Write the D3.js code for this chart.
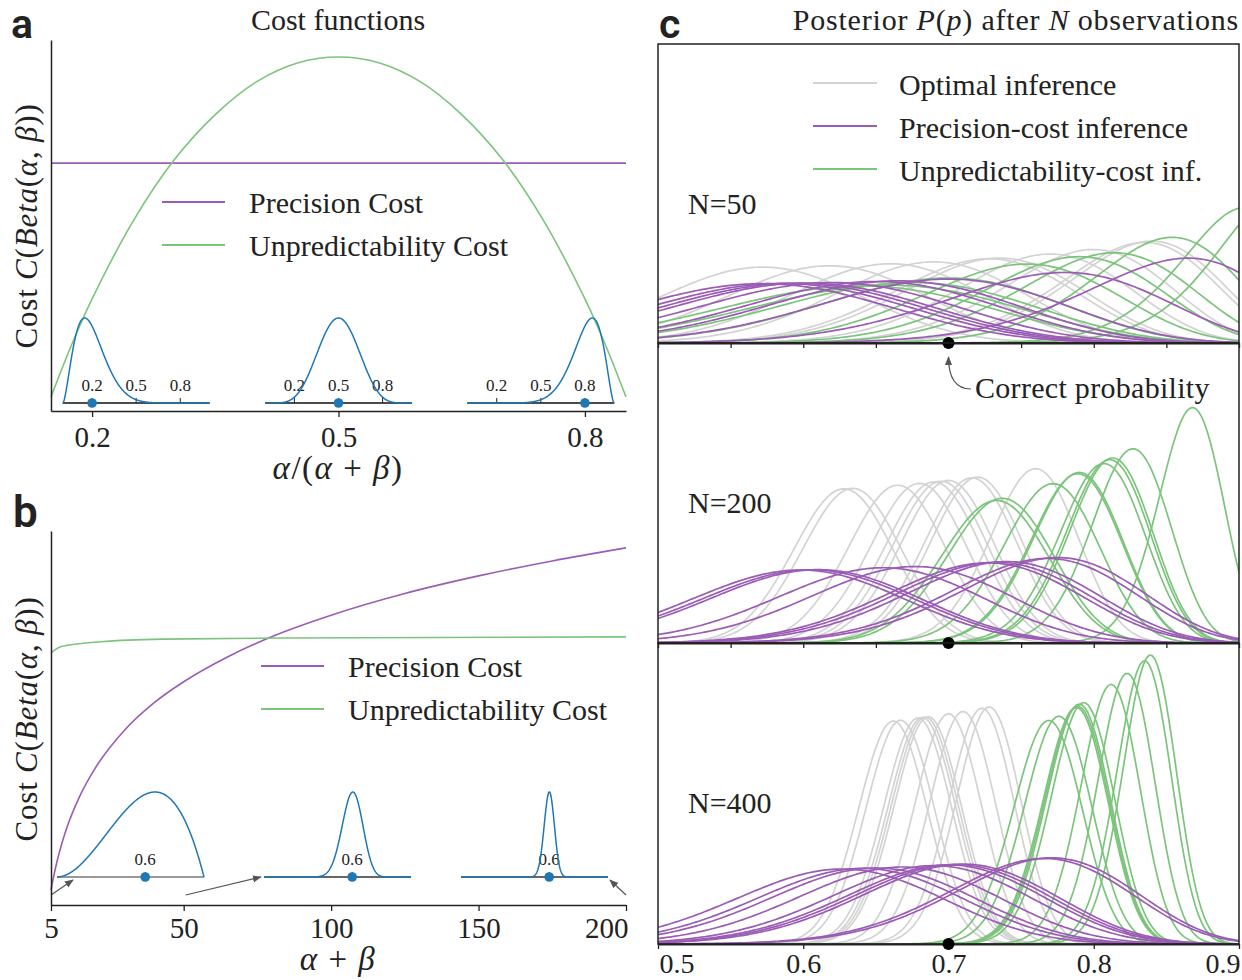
<!DOCTYPE html>
<html><head><meta charset="utf-8">
<script src="https://cdn.jsdelivr.net/npm/d3@7"></script>
<style>
html,body{margin:0;padding:0;background:#fff;}
svg{display:block;}
text{font-family:"Liberation Serif","Times New Roman",serif;fill:#222;}
.panel-label{font-family:Roboto,"Open Sans",sans-serif;font-weight:600;}
</style></head><body>
<svg id="fig" width="1242" height="980"></svg>
<script>
// ---------------- data ----------------
// (a) cost as a function of the mean alpha/(alpha+beta)
const ratioGrid      = [0.15, 0.175, 0.2, 0.25, 0.3, 0.35, 0.4, 0.45, 0.5, 0.55, 0.6, 0.65, 0.7, 0.75, 0.8, 0.825, 0.85];
const unpredCostA    = [0.038, 0.178, 0.302, 0.512, 0.677, 0.799, 0.887, 0.938, 0.954, 0.938, 0.887, 0.799, 0.677, 0.512, 0.302, 0.178, 0.038];
const precisionGridA = [0.15, 0.85];
const precisionCostA = [0.668, 0.668];
const aTicks = [0.2, 0.5, 0.8];
const insetMeansA = [0.2, 0.5, 0.8];
const insetConcA = 14;
const insetTicksA = [0.2, 0.5, 0.8];

// (b) cost as a function of the concentration alpha+beta
const totalGrid      = [5, 6, 7, 8.5, 10, 15, 20, 30, 40, 50, 65, 80, 100, 125, 150, 175, 200];
const precisionCostB = [0.040, 0.080, 0.115, 0.160, 0.198, 0.295, 0.366, 0.468, 0.541, 0.597, 0.664, 0.718, 0.775, 0.833, 0.880, 0.920, 0.955];
const unpredGridB    = [5, 8.5, 22, 43, 84, 200];
const unpredCostB    = [0.674, 0.691, 0.704, 0.711, 0.714, 0.717];
const bTicks = [5, 50, 100, 150, 200];
const insetMeanB = 0.6;
const insetConcB = [5, 50, 200];

// (c) posteriors after N observations: mode and concentration of each Beta curve
const posteriorN = [50, 200, 400];
const correctP = 0.7;
const cTicksMinor = [0.5, 0.55, 0.6, 0.65, 0.7, 0.75, 0.8, 0.85, 0.9];
const cTicks = [0.5, 0.6, 0.7, 0.8, 0.9];
const optimalModes = [
  [0.572, 0.618, 0.66, 0.69, 0.728, 0.735, 0.77, 0.80, 0.835, 0.84],
  [0.628, 0.634, 0.665, 0.68, 0.69, 0.695, 0.70, 0.716, 0.72, 0.76],
  [0.662, 0.667, 0.679, 0.682, 0.684, 0.686, 0.70, 0.71, 0.723, 0.728]
];
const optimalConc = [52, 202, 402];
const precisionModes = [
  [0.572, 0.585, 0.594, 0.602, 0.62, 0.65, 0.665, 0.70, 0.78, 0.865],
  [0.598, 0.605, 0.61, 0.655, 0.677, 0.727, 0.733, 0.74, 0.768, 0.775],
  [0.627, 0.641, 0.65, 0.668, 0.69, 0.70, 0.705, 0.71, 0.766, 0.771]
];
const precisionConc = [32, 47, 48];
const unpredModes = [
  [0.64, 0.66, 0.675, 0.70, 0.754, 0.79, 0.814, 0.854, 0.904, 0.925],
  [0.733, 0.737, 0.772, 0.789, 0.79, 0.807, 0.811, 0.813, 0.827, 0.868],
  [0.769, 0.776, 0.788, 0.789, 0.79, 0.793, 0.812, 0.823, 0.835, 0.839]
];
const unpredConc = [
  [28, 28, 30, 33, 43, 46, 46, 52, 60, 55],
  [145, 148, 163, 174, 176, 183, 188, 190, 197, 232],
  [321, 326, 338, 340, 345, 346, 372, 386, 400, 408]
];
const densityMax = 22.8;

// ---------------- helpers ----------------
const PURPLE = '#9b5cb5', GREEN = '#7cc47c', GRAY = '#d3d3d3', BLUE = '#1f77b4', INK = '#222';

function lgamma(z) {
  const c = [0.99999999999980993, 676.5203681218851, -1259.1392167224028, 771.32342877765313,
    -176.61502916214059, 12.507343278686905, -0.13857109526572012, 9.9843695780195716e-6, 1.5056327351493116e-7];
  if (z < 0.5) return Math.log(Math.PI / Math.sin(Math.PI * z)) - lgamma(1 - z);
  z -= 1;
  let x = c[0];
  for (let i = 1; i < 9; i++) x += c[i] / (z + i);
  const t = z + 7.5;
  return 0.5 * Math.log(2 * Math.PI) + (z + 0.5) * Math.log(t) - t + Math.log(x);
}
function betaPdf(p, a, b) {
  if (p <= 0 || p >= 1) return 0;
  const lb = lgamma(a) + lgamma(b) - lgamma(a + b);
  return Math.exp((a - 1) * Math.log(p) + (b - 1) * Math.log(1 - p) - lb);
}
function rich(sel, parts) {
  parts.forEach(([t, it]) => sel.append('tspan').text(t).attr('font-style', it ? 'italic' : null));
  return sel;
}
function styleAxis(g, fs, width) {
  g.select('.domain').attr('stroke', INK).attr('stroke-width', width || 1.5);
  g.selectAll('.tick line').attr('stroke', INK).attr('stroke-width', 1.3);
  g.selectAll('.tick text').attr('font-size', fs).attr('fill', INK)
    .attr('font-family', '"Liberation Serif", serif');
}
const costLabel = [['Cost  ', 0], ['C', 1], ['(', 0], ['Beta', 1], ['(', 0], ['α', 1], [', ', 0], ['β', 1], ['))', 0]];

const svg = d3.select('#fig');
svg.append('rect').attr('width', 1242).attr('height', 980).attr('fill', '#fff');

const defs = svg.append('defs');
defs.append('marker').attr('id', 'head').attr('viewBox', '0 0 10 10')
  .attr('refX', 9).attr('refY', 5).attr('markerWidth', 9).attr('markerHeight', 9)
  .attr('markerUnits', 'userSpaceOnUse').attr('orient', 'auto')
  .append('path').attr('d', 'M0,1 L10,5 L0,9 z').attr('fill', '#555');

// small Beta-density inset on its own baseline
function drawInset(g, left, base, m, conc, ticks, labels, baseColor) {
  const w = 147, hgt = 85;
  const xs = d3.scaleLinear().domain([0, 1]).range([left, left + w]);
  const a = m * conc, b = (1 - m) * conc;
  const pts = d3.range(0, 1.00001, 0.002).map(p => [p, betaPdf(p, a, b)]);
  const ys = d3.scaleLinear().domain([0, d3.max(pts, d => d[1])]).range([base, base - hgt]);
  g.append('line').attr('x1', left).attr('x2', left + w).attr('y1', base).attr('y2', base)
    .attr('stroke', baseColor).attr('stroke-width', 1.5);
  ticks.forEach(t => g.append('line').attr('x1', xs(t)).attr('x2', xs(t))
    .attr('y1', base).attr('y2', base - 5).attr('stroke', INK).attr('stroke-width', 1));
  labels.forEach(t => g.append('text').attr('x', xs(t)).attr('y', base - 12)
    .attr('text-anchor', 'middle').attr('font-size', 17).text(t.toFixed(1)));
  g.append('path').datum(pts)
    .attr('d', d3.line().x(d => xs(d[0])).y(d => ys(d[1])))
    .attr('fill', 'none').attr('stroke', BLUE).attr('stroke-width', 1.5);
  g.append('circle').attr('cx', xs(m)).attr('cy', base).attr('r', 4.8).attr('fill', BLUE);
  return xs;
}

// ---------------- panel a ----------------
{
  const g = svg.append('g');
  const x = d3.scaleLinear().domain([0.15, 0.85]).range([51, 626]);
  const y = d3.scaleLinear().domain([0, 1]).range([411, 40]);
  const line = d3.line().x(d => x(d[0])).y(d => y(d[1])).curve(d3.curveCatmullRom);

  g.append('path').datum(d3.zip(precisionGridA, precisionCostA)).attr('d', line)
    .attr('fill', 'none').attr('stroke', PURPLE).attr('stroke-width', 1.6);
  g.append('path').datum(d3.zip(ratioGrid, unpredCostA)).attr('d', line)
    .attr('fill', 'none').attr('stroke', GREEN).attr('stroke-width', 1.6);

  insetMeansA.forEach(m => drawInset(g, x(m) - m * 147, 403, m, insetConcA, insetTicksA, insetTicksA, '#111'));

  const ax = g.append('g').attr('transform', 'translate(0,411)')
    .call(d3.axisBottom(x).tickValues(aTicks).tickSize(6).tickSizeOuter(0).tickPadding(9).tickFormat(d3.format('.1f')));
  styleAxis(ax, 29);
  const ay = g.append('g').attr('transform', 'translate(51,0)')
    .call(d3.axisLeft(y).tickValues([]).tickSizeOuter(0));
  styleAxis(ay, 29);

  // legend
  [['Precision Cost', PURPLE, 202], ['Unpredictability Cost', GREEN, 245]].forEach(([t, c, ly]) => {
    g.append('line').attr('x1', 162).attr('x2', 225).attr('y1', ly).attr('y2', ly)
      .attr('stroke', c).attr('stroke-width', 1.8);
    g.append('text').attr('x', 249).attr('y', ly + 11).attr('font-size', 30).text(t);
  });

  g.append('text').attr('x', 338).attr('y', 30).attr('text-anchor', 'middle').attr('font-size', 30).text('Cost functions');
  rich(g.append('text').attr('x', 338).attr('y', 479).attr('text-anchor', 'middle').attr('font-size', 33)
    .attr('letter-spacing', 1.5), [['α', 1], ['/(', 0], ['α', 1], [' + ', 0], ['β', 1], [')', 0]]);
  rich(g.append('text').attr('transform', 'translate(37,226) rotate(-90)').attr('text-anchor', 'middle')
    .attr('font-size', 31).attr('letter-spacing', 0.8), costLabel);
  svg.append('text').attr('class', 'panel-label').attr('x', 11).attr('y', 38).attr('font-size', 41).text('a');
}

// ---------------- panel b ----------------
{
  const g = svg.append('g');
  const x = d3.scaleLinear().domain([5, 200]).range([51, 626]);
  const y = d3.scaleLinear().domain([0, 1]).range([905, 531]);
  const line = d3.line().x(d => x(d[0])).y(d => y(d[1])).curve(d3.curveMonotoneX);

  g.append('path').datum(d3.zip(totalGrid, precisionCostB)).attr('d', line)
    .attr('fill', 'none').attr('stroke', PURPLE).attr('stroke-width', 1.6);
  g.append('path').datum(d3.zip(unpredGridB, unpredCostB)).attr('d', line)
    .attr('fill', 'none').attr('stroke', GREEN).attr('stroke-width', 1.6);

  const lefts = [57, 264, 461], base = 877;
  insetConcB.forEach((c, i) => drawInset(g, lefts[i], base, insetMeanB, c, [insetMeanB], [insetMeanB], i === 0 ? '#777' : '#333'));

  // arrows from the concentration axis to each inset
  const arrowEnds = [[lefts[0] + 16, base + 3], [lefts[1] - 3, base], [lefts[2] + 149, base + 3]];
  insetConcB.forEach((c, i) => {
    g.append('line').attr('x1', x(c) + (i === 1 ? 2 : 0)).attr('y1', base + 18)
      .attr('x2', arrowEnds[i][0]).attr('y2', arrowEnds[i][1])
      .attr('stroke', '#555').attr('stroke-width', 1.2).attr('marker-end', 'url(#head)');
  });

  const ax = g.append('g').attr('transform', 'translate(0,905)')
    .call(d3.axisBottom(x).tickValues(bTicks).tickSize(6).tickSizeOuter(0).tickPadding(6).tickFormat(d3.format('d')));
  styleAxis(ax, 29);
  ax.selectAll('.tick text').filter(d => d === 200).attr('text-anchor', 'end').attr('dx', 2);
  const ay = g.append('g').attr('transform', 'translate(51,0)')
    .call(d3.axisLeft(y).tickValues([]).tickSizeOuter(0));
  styleAxis(ay, 29);

  [['Precision Cost', PURPLE, 666], ['Unpredictability Cost', GREEN, 709]].forEach(([t, c, ly]) => {
    g.append('line').attr('x1', 261).attr('x2', 324).attr('y1', ly).attr('y2', ly)
      .attr('stroke', c).attr('stroke-width', 1.8);
    g.append('text').attr('x', 348).attr('y', ly + 11).attr('font-size', 30).text(t);
  });

  rich(g.append('text').attr('x', 338).attr('y', 970).attr('text-anchor', 'middle').attr('font-size', 33)
    .attr('letter-spacing', 1.5), [['α', 1], [' + ', 0], ['β', 1]]);
  rich(g.append('text').attr('transform', 'translate(37,719) rotate(-90)').attr('text-anchor', 'middle')
    .attr('font-size', 31).attr('letter-spacing', 0.8), costLabel);
  svg.append('text').attr('class', 'panel-label').attr('x', 13).attr('y', 527).attr('font-size', 44).text('b');
}

// ---------------- panel c ----------------
{
  const g = svg.append('g');
  const x = d3.scaleLinear().domain([0.5, 0.9]).range([658, 1239]);
  const tops = [44, 343, 643], bottoms = [343, 643, 944];
  const pGrid = d3.range(0.5, 0.9 + 1e-9, 0.002);
  const curve = (mode, conc) => {
    const a = mode * (conc - 2) + 1, b = conc - a;
    return pGrid.map(p => [p, betaPdf(p, a, b)]);
  };

  posteriorN.forEach((N, i) => {
    const top = tops[i], bottom = bottoms[i];
    const y = d3.scaleLinear().domain([0, densityMax]).range([bottom, top]);
    const line = d3.line().x(d => x(d[0])).y(d => y(d[1]));
    defs.append('clipPath').attr('id', 'clip' + i).append('rect')
      .attr('x', 658).attr('y', top).attr('width', 581).attr('height', bottom - top);
    const plot = g.append('g').attr('clip-path', `url(#clip${i})`);

    const draw = (modes, concs, color) => modes.forEach((m, k) => {
      const c = Array.isArray(concs) ? concs[k] : concs;
      plot.append('path').datum(curve(m, c)).attr('d', line)
        .attr('fill', 'none').attr('stroke', color).attr('stroke-width', 1.7);
    });
    draw(optimalModes[i], optimalConc[i], GRAY);
    draw(unpredModes[i], unpredConc[i], GREEN);
    draw(precisionModes[i], precisionConc[i], PURPLE);

    g.append('rect').attr('x', 658).attr('y', top).attr('width', 581).attr('height', bottom - top)
      .attr('fill', 'none').attr('stroke', INK).attr('stroke-width', 1.5);

    const last = i === 2;
    const ax = g.append('g').attr('transform', `translate(0,${bottom})`)
      .call(d3.axisBottom(x).tickValues(last ? cTicks : cTicksMinor).tickSize(5).tickSizeOuter(0)
        .tickPadding(4).tickFormat(last ? d3.format('.1f') : () => ''));
    styleAxis(ax, 28, 2.2);
    if (last) {
      ax.selectAll('.tick text').filter(d => d === 0.5).attr('text-anchor', 'start').attr('dx', 1);
      ax.selectAll('.tick text').filter(d => d === 0.9).attr('text-anchor', 'end').attr('dx', 1);
    }
    g.append('circle').attr('cx', x(correctP)).attr('cy', bottom).attr('r', 6).attr('fill', '#000');

    g.append('text').attr('x', 688).attr('y', top + 169.5).attr('font-size', 30).text('N=' + N);
  });

  // legend
  [['Optimal inference', GRAY, 83], ['Precision-cost inference', PURPLE, 126], ['Unpredictability-cost inf.', GREEN, 169]]
    .forEach(([t, c, ly]) => {
      g.append('line').attr('x1', 813).attr('x2', 877).attr('y1', ly).attr('y2', ly)
        .attr('stroke', c).attr('stroke-width', 1.8);
      g.append('text').attr('x', 899).attr('y', ly + 12).attr('font-size', 30).text(t);
    });

  // correct probability annotation
  g.append('path').attr('d', `M971,389 Q${x(correctP)},389 ${x(correctP)},357`)
    .attr('fill', 'none').attr('stroke', '#555').attr('stroke-width', 1.2).attr('marker-end', 'url(#head)');
  g.append('text').attr('x', 975).attr('y', 398).attr('font-size', 30).attr('letter-spacing', 0.3).text('Correct probability');

  rich(g.append('text').attr('x', 1239).attr('y', 30).attr('text-anchor', 'end').attr('font-size', 30)
    .attr('letter-spacing', 0.8),
    [['Posterior ', 0], ['P', 1], ['(', 0], ['p', 1], [') after ', 0], ['N', 1], [' observations', 0]]);
  svg.append('text').attr('class', 'panel-label').attr('x', 659).attr('y', 38).attr('font-size', 41).text('c');
}
</script>
</body></html>
